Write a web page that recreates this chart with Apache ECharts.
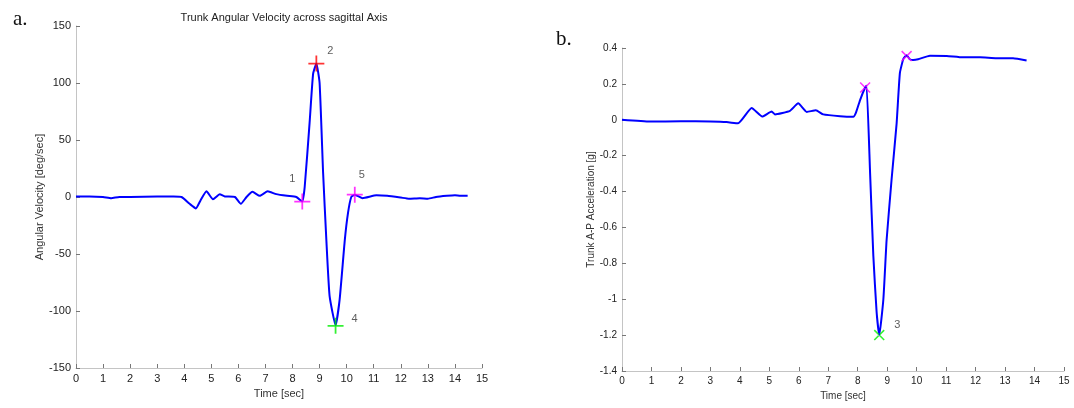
<!DOCTYPE html>
<html>
<head>
<meta charset="utf-8">
<title>Trunk angular velocity / A-P acceleration</title>
<script src="https://cdn.jsdelivr.net/npm/echarts@6/dist/echarts.min.js"></script>
<style>
  html, body { margin: 0; padding: 0; background: #fff; }
  #chart { width: 1074px; height: 408px; }
</style>
</head>
<body>
<div id="chart"></div>
<script>
// panel a: trunk angular velocity [deg/sec] vs time [sec]
var timeA = [0, 0.5, 1.0, 1.3, 1.6, 2.0, 3.0, 3.6, 3.9, 4.2, 4.43, 4.6, 4.82, 5.06, 5.31, 5.5, 5.87, 6.09, 6.3, 6.52, 6.79, 7.08, 7.4, 7.8, 8.14, 8.36,
  8.45, 8.63, 8.76, 8.88, 9.0, 9.13, 9.25, 9.37, 9.59, 9.74, 9.93, 10.05, 10.17, 10.3, 10.59, 11.1, 11.5, 12.0, 12.3, 12.7, 13.0, 13.3, 13.7, 14.0, 14.2, 14.47];
var velA = [0.5, 0.5, 0, -1, 0, 0, 0.5, 0.5, 0, -6, -10, -3, 5, -2, 2.5, 0.5, 0, -6, 0, 4.5, 1, 5, 2.5, 1, 0, -4,
  9, 65, 108, 117, 100, 21, -38, -87, -112.5, -90, -38, -14, 0, 2, -1, 1.5, 1, -0.5, -1.5, -1, -1.5, 0, 1, 1.5, 1, 1];

// panel a events
var evA_magenta = [[8.36, -4, '1'], [10.3, 2, '5']];
var evA_red = [[8.88, 117, '2']];
var evA_green = [[9.59, -113, '4']];

// panel b: trunk A-P acceleration [g] vs time [sec]
var timeB = [0, 0.95, 2.0, 3.0, 3.55, 3.94, 4.4, 4.76, 5.08, 5.19, 5.7, 5.98, 6.27, 6.58, 6.83, 7.4, 7.85, 7.94, 8.08, 8.25, 8.3,
  8.42, 8.53, 8.64, 8.73, 8.87, 8.98, 9.15, 9.32, 9.43, 9.55, 9.66, 9.77, 9.88, 10.05, 10.45, 11.02, 11.57, 12.15, 12.71, 13.27, 13.73];
var accB = [0, -0.01, -0.008, -0.01, -0.013, -0.02, 0.065, 0.018, 0.046, 0.03, 0.05, 0.092, 0.044, 0.053, 0.03, 0.02, 0.017, 0.04, 0.11, 0.18, 0.19,
  -0.3, -0.76, -1.07, -1.2, -1.0, -0.67, -0.33, -0.02, 0.26, 0.34, 0.36, 0.337, 0.333, 0.337, 0.357, 0.356, 0.348, 0.348, 0.343, 0.343, 0.33];

var evB_magenta = [[8.25, 0.18, ''], [9.66, 0.355, '']];
var evB_green = [[8.73, -1.2, '3']];

var axisTicksX = { min: 0, max: 15, interval: 1 };
var axisTicksA = { min: -150, max: 150, interval: 50 };
var axisTicksB = { min: -1.4, max: 0.4, interval: 0.2 };

function pairs(xs, ys) {
  var out = [];
  for (var i = 0; i < xs.length; i++) out.push([xs[i], ys[i]]);
  return out;
}

// label offsets for the event numbers
var labelOffset = { '1': [-10, -23], '2': [14, -13], '4': [19, -7], '5': [7, -20], '3': [18, -10] };

var plusSym = 'path://M-1,-9h2v18h-2zM-9,-1h18v2h-18z';
var crossSym = 'path://M-7,-5.6L-5.6,-7L7,5.6L5.6,7ZM-7,5.6L-5.6,7L7,-5.6L5.6,-7Z';

function events(list, color, sym, size, xi) {
  return {
    type: 'scatter',
    xAxisIndex: xi, yAxisIndex: xi,
    symbol: sym,
    symbolSize: size,
    itemStyle: { color: color },
    z: 5,
    data: list.map(function (e) {
      return {
        value: [e[0], e[1]],
        label: {
          show: e[2] !== '',
          formatter: e[2],
          position: 'inside',
          offset: labelOffset[e[2]] || [0, 0],
          color: '#333',
          fontSize: 11,
          fontFamily: 'Liberation Sans'
        }
      };
    })
  };
}

function xAxisCfg(gi, fs) {
  return {
    gridIndex: gi, type: 'value',
    min: axisTicksX.min, max: axisTicksX.max, interval: axisTicksX.interval,
    name: 'Time [sec]', nameLocation: 'middle', nameGap: 20,
    nameTextStyle: { color: '#333', fontSize: fs, fontFamily: 'Liberation Sans' },
    axisLine: { show: true, onZero: false, lineStyle: { color: '#c4c4c4', width: 1 } },
    axisTick: { show: true, inside: true, length: 4, lineStyle: { color: '#777' } },
    axisLabel: { color: '#222', fontSize: fs, margin: 5, fontFamily: 'Liberation Sans' },
    splitLine: { show: false }
  };
}

function yAxisCfg(gi, ticks, name, fs, gap) {
  return {
    gridIndex: gi, type: 'value',
    min: ticks.min, max: ticks.max, interval: ticks.interval,
    name: name, nameLocation: 'middle', nameGap: gap, nameRotate: 90,
    nameTextStyle: { color: '#333', fontSize: fs, fontFamily: 'Liberation Sans' },
    axisLine: { show: true, onZero: false, lineStyle: { color: '#c4c4c4', width: 1 } },
    axisTick: { show: true, inside: true, length: 4, lineStyle: { color: '#777' } },
    axisLabel: { color: '#222', fontSize: fs, margin: 5, fontFamily: 'Liberation Sans' },
    splitLine: { show: false }
  };
}

var chart = echarts.init(document.getElementById('chart'), null, { renderer: 'canvas' });

var option = {
  animation: false,
  backgroundColor: '#fff',
  title: [
    { text: 'a.', left: 8, top: 4, textStyle: { fontFamily: 'Liberation Serif', fontSize: 21, fontWeight: 'normal', color: '#111' } },
    { text: 'b.', left: 551, top: 24, textStyle: { fontFamily: 'Liberation Serif', fontSize: 21, fontWeight: 'normal', color: '#111' } },
    { text: 'Trunk Angular Velocity across sagittal Axis', left: 279, top: 7, textAlign: 'center',
      textStyle: { fontFamily: 'Liberation Sans', fontSize: 11, fontWeight: 'normal', color: '#222' } }
  ],
  grid: [
    { left: 76, top: 26, width: 406, height: 342 },
    { left: 622, top: 48, width: 442, height: 323 }
  ],
  xAxis: [xAxisCfg(0, 11), xAxisCfg(1, 10)],
  yAxis: [
    yAxisCfg(0, axisTicksA, 'Angular Velocity [deg/sec]', 11, 30),
    yAxisCfg(1, axisTicksB, 'Trunk A-P Acceleration [g]', 10, 26)
  ],
  series: [
    {
      type: 'line', xAxisIndex: 0, yAxisIndex: 0,
      data: pairs(timeA, velA),
      showSymbol: false, smooth: 0.15,
      lineStyle: { color: '#0000ff', width: 2 }
    },
    {
      type: 'line', xAxisIndex: 1, yAxisIndex: 1,
      data: pairs(timeB, accB),
      showSymbol: false, smooth: 0.15,
      lineStyle: { color: '#0000ff', width: 2 }
    },
    events(evA_magenta, '#ff00ff', plusSym, 16, 0),
    events(evA_red, '#ff0000', plusSym, 16, 0),
    events(evA_green, '#00ee00', plusSym, 16, 0),
    events(evB_magenta, '#ff00ff', crossSym, 11, 1),
    events(evB_green, '#00ee00', crossSym, 11, 1)
  ]
};

chart.setOption(option);
</script>
</body>
</html>
